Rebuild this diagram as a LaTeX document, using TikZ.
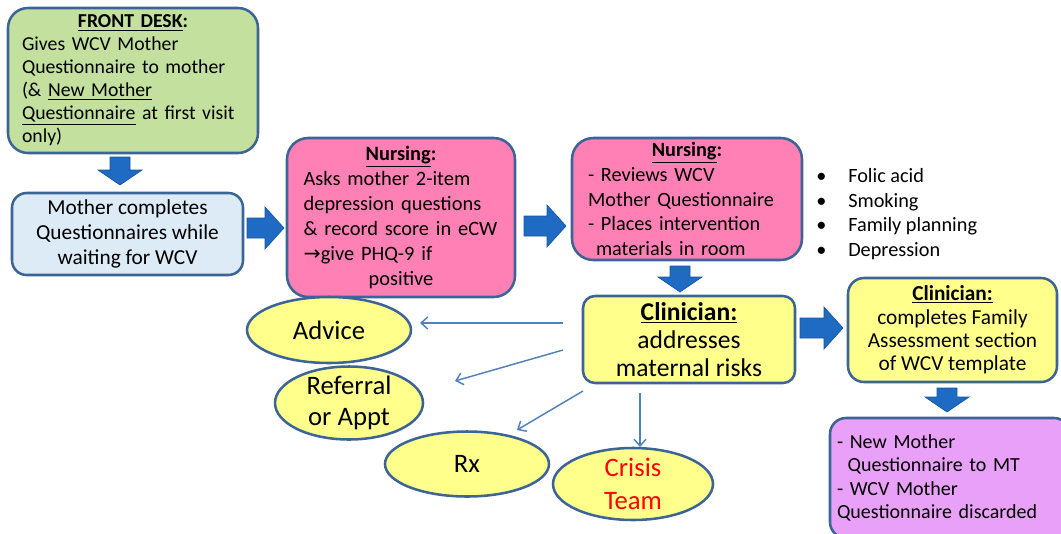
\documentclass[tikz,border=0pt]{standalone}
\usepackage{fontspec}
\setmainfont{Carlito}
\newfontfamily\djv{DejaVu Sans}
\usetikzlibrary{shapes.geometric,arrows.meta}
\definecolor{bord}{RGB}{60,100,150}
\definecolor{cgreen}{RGB}{195,224,158}
\definecolor{cblue}{RGB}{220,235,246}
\definecolor{cpink}{RGB}{255,128,180}
\definecolor{cyellow}{RGB}{255,255,140}
\definecolor{cpurple}{RGB}{233,160,248}
\definecolor{barr}{RGB}{31,107,196}
\definecolor{carr}{RGB}{79,129,189}
\definecolor{cred}{RGB}{255,0,0}
\newcommand\ctr[1]{\hspace*{0pt plus 1filll}#1\hspace*{0pt plus 1filll}\null}
\newcommand\myrarr[3]{\filldraw[blockarr] (#1,#3-10) -- (#2-19,#3-10) -- (#2-19,#3-21) -- (#2,#3) -- (#2-19,#3+21) -- (#2-19,#3+10) -- (#1,#3+10) -- cycle;}
\newcommand\mydarr[3]{\filldraw[blockarr] (#1-10,#2) -- (#1+10,#2) -- (#1+10,#3-15) -- (#1+22,#3-15) -- (#1,#3) -- (#1-22,#3-15) -- (#1-10,#3-15) -- cycle;}
\tikzset{
  box/.style={draw=bord, line width=1.9pt, inner sep=0pt},
  oval/.style={ellipse, draw=bord, line width=1.9pt, fill=cyellow, inner xsep=0pt, inner ysep=-6pt,
    font=\fontsize{20}{25}\selectfont, align=center},
  conn/.style={draw=carr, line width=1.1pt, -{Straight Barb[length=5pt,width=9pt]}},
  blockarr/.style={fill=barr, draw=barr!80!black, line width=0.5pt},
}
\begin{document}
\begin{tikzpicture}[x=0.75pt,y=-0.75pt]
\useasboundingbox (0,0) rectangle (1061,533);

% Front desk
\node[box, fill=cgreen, rounded corners=15pt, minimum width=187.5pt, minimum height=108.75pt,
  text width=166.5pt, align=left, font=\fontsize{14.8}{17.25}\selectfont] (b1) at (133,80.5)
  {\ctr{\underline{\textbf{FRONT DESK}}\textbf{:}}\\
   \mbox{Gives WCV Mother}\\
   \mbox{Questionnaire to mother}\\
   \mbox{(\& \underline{New Mother}}\\
   \mbox{\underline{Questionnaire} at first visit}\\
   \mbox{only)}};

% Mother completes
\node[box, fill=cblue, rounded corners=11pt, minimum width=173.25pt, minimum height=61.5pt,
  align=center, font=\fontsize{16}{19}\selectfont] (b2) at (127.5,234)
  {Mother completes\\ Questionnaires while\\ waiting for WCV};

% Nursing 1
\node[box, fill=cpink, rounded corners=16pt, minimum width=171pt, minimum height=119.25pt,
  text width=146pt, align=left, font=\fontsize{15.3}{18.75}\selectfont] (b3) at (401,217.5)
  {\ctr{\underline{\textbf{Nursing}}\textbf{:}}\\
   \mbox{Asks mother 2-item}\\
   \mbox{depression questions}\\
   \mbox{\& record score in eCW}\\
   \mbox{{\djv\fontsize{15.3}{18.75}\selectfont →}give PHQ-9 if}\\
   \ctr{positive}};

% Nursing 2
\node[box, fill=cpink, rounded corners=16pt, minimum width=172.5pt, minimum height=91.5pt,
  text width=148.5pt, align=left, font=\fontsize{15.2}{18.5}\selectfont] (b4) at (687,199)
  {\ctr{\underline{\textbf{Nursing}}\textbf{:}}\\
   \mbox{- Reviews WCV}\\
   \mbox{Mother Questionnaire}\\
   \mbox{- Places intervention}\\
   \hspace*{6pt}\mbox{materials in room}};

% bullet list
\node[anchor=north west, inner sep=0pt, font=\fontsize{15.2}{18.5}\selectfont] (list) at (812,165)
  {\begin{tabular}{@{\hspace{3pt}}p{24pt}@{}l@{}}
   • & Folic acid\\
   • & Smoking\\
   • & Family planning\\
   • & Depression
   \end{tabular}};

% Clinician 1
\node[box, fill=cyellow, rounded corners=9pt, minimum width=159pt, minimum height=65.25pt,
  align=center, font=\fontsize{19.2}{21}\selectfont] (b5) at (689,339.5)
  {\underline{\textbf{Clinician:}}\\ addresses\\ maternal risks};

% Clinician 2
\node[box, fill=cyellow, rounded corners=12pt, minimum width=156.75pt, minimum height=78pt,
  align=center, font=\fontsize{16}{17.6}\selectfont] (b6) at (952.5,330)
  {\underline{\textbf{Clinician:}}\\ completes Family\\ Assessment section\\ of WCV template};

% Purple
\node[box, fill=cpurple, rounded corners=12pt, minimum width=180pt, minimum height=90pt,
  text width=169.5pt, align=left, font=\fontsize{15}{17.5}\selectfont] (b7) at (950,478)
  {\mbox{- New Mother}\\
   \hspace*{8pt}\mbox{Questionnaire to MT}\\
   \mbox{- WCV Mother}\\
   \mbox{Questionnaire discarded}};

% ellipses
\node[oval, minimum width=123pt, minimum height=49.5pt] (e1) at (329,330) {Advice};
\node[oval, minimum width=111pt, minimum height=54.75pt] (e2) at (349,403) {\raisebox{-2pt}{Referral}\\ or Appt};
\node[oval, minimum width=123pt, minimum height=48.75pt] (e3) at (467,464) {Rx};
\node[oval, minimum width=120pt, minimum height=54pt, text=cred] (e4) at (633,484) {Crisis\\ Team};

% block arrows
\mydarr{120}{157}{185}
\myrarr{247}{284}{228}
\myrarr{524}{566}{226}
\mydarr{680}{266}{292}
\myrarr{800}{843}{328}
\mydarr{947}{388}{412}

% thin connectors
\coordinate (a1s) at (563,323); \coordinate (a1e) at (420,323);
\coordinate (a2s) at (563,350); \coordinate (a2e) at (455,381);
\coordinate (a3s) at (583,391); \coordinate (a3e) at (517,430);
\coordinate (a4s) at (640,393); \coordinate (a4e) at (640,447);
\draw[conn] (a1s) -- (a1e);
\draw[conn] (a2s) -- (a2e);
\draw[conn] (a3s) -- (a3e);
\draw[conn] (a4s) -- (a4e);
\end{tikzpicture}
\end{document}
